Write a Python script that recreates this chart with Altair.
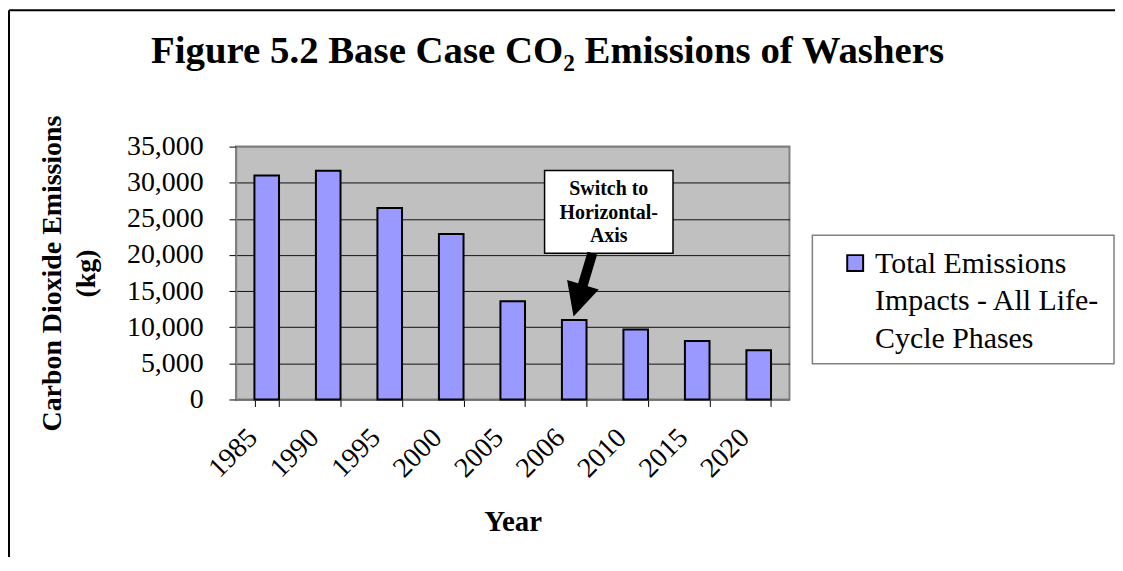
import altair as alt
import pandas as pd

# ---- data ----
years = ["1985", "1990", "1995", "2000", "2005", "2006", "2010", "2015", "2020"]
emissions = [31000, 31650, 26500, 22900, 13600, 11000, 9700, 8100, 6800]
y_ticks = [0, 5000, 10000, 15000, 20000, 25000, 30000, 35000]
title_text = "Figure 5.2 Base Case CO₂ Emissions of Washers"
y_title = ["Carbon Dioxide Emissions", "(kg)"]
x_title = "Year"
legend_lines = ["Total Emissions", "Impacts - All Life-", "Cycle Phases"]
note_lines = ["Switch to", "Horizontal-", "Axis"]

SERIF = "Liberation Serif"
BAR_FILL = "#9999FF"

df = pd.DataFrame({"Year": years, "Emissions": emissions})
one = pd.DataFrame({"k": [0]})

bars = alt.Chart(df).mark_bar(fill=BAR_FILL, stroke="black", strokeWidth=2).encode(
    x=alt.X(
        "Year:N",
        sort=years,
        scale=alt.Scale(paddingInner=0.6, paddingOuter=0.3),
        axis=alt.Axis(
            title=x_title,
            labelAngle=315,
            labelAlign="right",
            labelBaseline="top",
            labelPadding=17,
            labelOffset=-24,
            labelFont=SERIF,
            labelFontSize=28,
            labelColor="black",
            tickBand="extent",
            tickSize=7,
            tickColor="black",
            domainColor="#808080",
            domainWidth=1.5,
            titleFont=SERIF,
            titleFontSize=29,
            titleFontWeight="bold",
            titleColor="black",
            titleBaseline="alphabetic",
            titleY=132,
        ),
    ),
    y=alt.Y(
        "Emissions:Q",
        scale=alt.Scale(domain=[0, 35000], nice=False),
        axis=alt.Axis(
            values=y_ticks,
            format=",.0f",
            title=y_title,
            labelFont=SERIF,
            labelFontSize=28,
            labelColor="black",
            labelPadding=26,
            tickSize=7,
            tickColor="black",
            domainColor="#808080",
            domainWidth=1.5,
            grid=True,
            gridColor=alt.condition("datum.value == 35000", alt.value("#808080"), alt.value("#111111")),
            gridWidth=1,
            titleFont=SERIF,
            titleFontSize=28,
            titleFontWeight="bold",
            titleColor="black",
            titleAngle=270,
            titleAlign="center",
            titleBaseline="top",
            titleLineHeight=34,
            titleX=-198,
            titleY=127,
        ),
    ),
)

# annotation box + text
note_box = alt.Chart(one).mark_rect(fill="white", stroke="black", strokeWidth=1.5).encode(
    x=alt.value(310), x2=alt.value(439), y=alt.value(24), y2=alt.value(107)
)
note_text = alt.Chart(one).mark_text(
    text=note_lines, font=SERIF, fontSize=20, fontWeight="bold", color="black",
    align="center", baseline="alphabetic", lineHeight=23.5,
).encode(x=alt.value(374.5), y=alt.value(49))

# arrow
shaft = alt.Chart(one).mark_rule(color="black", strokeWidth=10, strokeCap="butt").encode(
    x=alt.value(358), y=alt.value(107), x2=alt.value(346), y2=alt.value(147)
)
head = alt.Chart(one).mark_point(
    shape="M -1 -1 L 1 -1 L 0 1 Z", size=1100, filled=True, color="black",
    opacity=1, angle=16.5, strokeWidth=0,
).encode(x=alt.value(343.8), y=alt.value(154.7))

# legend
legend_box = alt.Chart(one).mark_rect(fill="white", stroke="#808080", strokeWidth=1.5).encode(
    x=alt.value(579), x2=alt.value(882), y=alt.value(89), y2=alt.value(218)
)
legend_sym = alt.Chart(one).mark_rect(fill=BAR_FILL, stroke="black", strokeWidth=2).encode(
    x=alt.value(614), x2=alt.value(630), y=alt.value(109), y2=alt.value(125)
)
legend_text = alt.Chart(one).mark_text(
    text=legend_lines, font=SERIF, fontSize=30, color="black",
    align="left", baseline="alphabetic", lineHeight=37.5,
).encode(x=alt.value(642), y=alt.value(127))

# outer chart border (left and top)
border_left = alt.Chart(one).mark_rule(color="black", strokeWidth=2).encode(
    x=alt.value(-228), y=alt.value(-137), y2=alt.value(420)
)
border_top = alt.Chart(one).mark_rule(color="black", strokeWidth=2).encode(
    x=alt.value(-228), x2=alt.value(890), y=alt.value(-137)
)

chart = alt.layer(
    bars, note_box, note_text, shaft, head, legend_box, legend_sym, legend_text,
    border_left, border_top,
).properties(
    width=556,
    height=254,
    padding={"left": 229, "top": 138, "right": 327, "bottom": 157},
    autosize=alt.AutoSizeParams(type="none"),
    title=alt.TitleParams(
        text=title_text, font=SERIF, fontSize=39, fontWeight="bold", color="black",
        anchor="middle", frame="group", dx=35, baseline="alphabetic", offset=-93,
    ),
    background="white",
).configure_view(
    fill="#C0C0C0", stroke="#808080", strokeWidth=2
)

chart.save("out.html", embed_options={"renderer": "svg", "actions": False})
